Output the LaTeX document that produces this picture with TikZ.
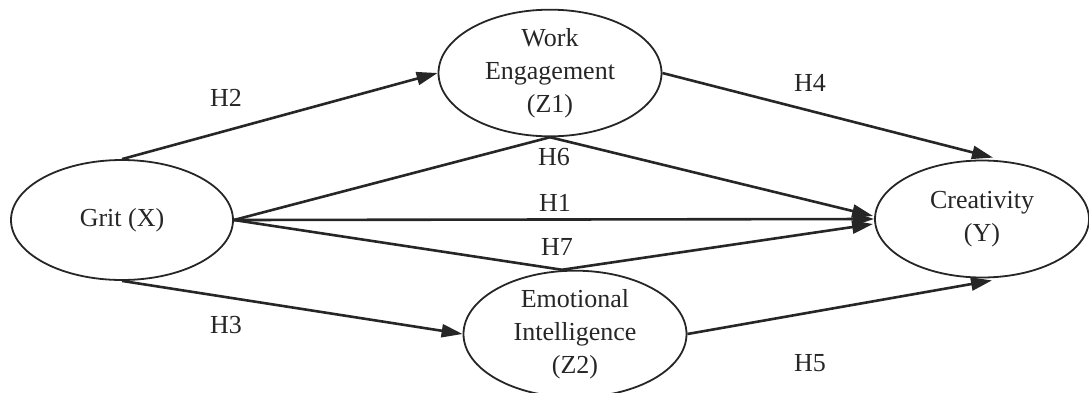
\documentclass[tikz,border=0pt]{standalone}
\usepackage{fontspec}
\setmainfont{Liberation Serif}
\usetikzlibrary{shapes.geometric,arrows.meta}
\begin{document}
\begin{tikzpicture}[x=1pt,y=-1pt,
  var/.style={ellipse,draw=black!85,line width=1.8pt,inner sep=0pt,align=center,
    font=\fontsize{26}{33}\selectfont,text=black!85},
  link/.style={draw=black!85,line width=2.6pt,-{Triangle[length=21pt,width=13pt]}},
  seg/.style={draw=black!85,line width=2.6pt},
  hlab/.style={font=\fontsize{26}{30}\selectfont,text=black!85,inner sep=0pt}]
\useasboundingbox (0,0) rectangle (1089,392);
\node[var,minimum width=222pt,minimum height=120pt] (grit) at (122,220) {Grit (X)};
\node[var,minimum width=223pt,minimum height=119pt] (we) at (550,73) {Work\\Engagement\\(Z1)};
\node[var,minimum width=223pt,minimum height=114pt] (ei) at (575,334) {Emotional\\Intelligence\\(Z2)};
\node[var,minimum width=214pt,minimum height=117pt] (cr) at (982,219) {Creativity\\(Y)};
\coordinate (eitop) at ([xshift=-13pt]ei.north);
\coordinate (crtop) at ([xshift=11pt,yshift=2pt]cr.north);
\coordinate (crbot) at ([xshift=10pt,yshift=-2pt]cr.south);
\coordinate (cr6) at ([xshift=-1pt,yshift=3pt]cr.west);
\coordinate (cr7) at ([xshift=-1pt,yshift=-5pt]cr.west);
\draw[link] (grit.north) -- (we.west);
\draw[link] (we.east) -- (crtop);
\draw[link] (grit.south) -- (ei.west);
\draw[link] (ei.east) -- (crbot);
\draw[link] (grit.east) -- (cr.west);
\draw[seg] (grit.east) -- (we.south);
\draw[link] (we.south) -- (cr6);
\draw[seg] (grit.east) -- (eitop);
\draw[link] (eitop) -- (cr7);
\node[hlab] (h2) at (226,98) {H2};
\node[hlab] (h4) at (810,83) {H4};
\node[hlab] (h6) at (554,157) {H6};
\node[hlab] (h1) at (555,203) {H1};
\node[hlab] (h7) at (557,247) {H7};
\node[hlab] (h3) at (226,325) {H3};
\node[hlab] (h5) at (810,363) {H5};
\end{tikzpicture}
\end{document}
